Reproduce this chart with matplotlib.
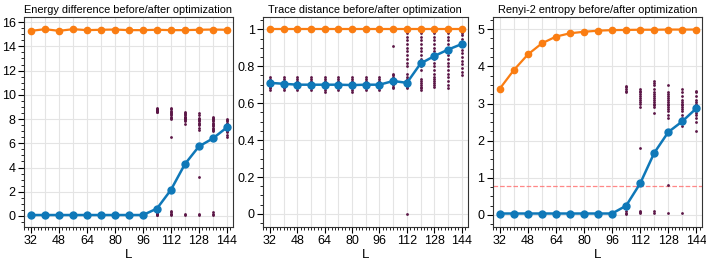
import numpy as np
import matplotlib
matplotlib.use("Agg")
import matplotlib.pyplot as plt
from matplotlib.ticker import MultipleLocator

plt.rcParams["font.family"] = ["Liberation Sans", "DejaVu Sans"]

L = [32, 40, 48, 56, 64, 72, 80, 88, 96, 104, 112, 120, 128, 136, 144]
xticks = [32, 48, 64, 80, 96, 112, 128, 144]

# energy difference
energy_before = [15.28, 15.42, 15.28, 15.42, 15.34, 15.37, 15.39, 15.34, 15.34,
                 15.37, 15.34, 15.34, 15.37, 15.39, 15.37]
energy_after = [0.08, 0.08, 0.08, 0.08, 0.08, 0.08, 0.08, 0.08, 0.08,
                0.61, 2.15, 4.28, 5.74, 6.4, 7.31]
energy_samples = {
    104: [8.55, 8.6, 8.65, 8.7, 8.75, 8.8, 8.85, 8.9, 0.05, 0.1, 0.15, 0.2, 0.25],
    112: [8.0, 8.1, 8.2, 8.3, 8.4, 8.5, 8.6, 8.7, 8.8, 8.9, 6.5, 0.1, 0.15, 0.2, 0.3, 0.4],
    120: [7.6, 7.8, 7.9, 8.0, 8.05, 8.1, 8.15, 8.2, 8.3, 8.4, 8.5, 8.6, 0.1, 0.2],
    128: [7.1, 7.3, 7.5, 7.6, 7.7, 7.8, 7.9, 8.0, 8.1, 8.3, 8.5, 3.2, 0.1, 0.15],
    136: [7.0, 7.1, 7.2, 7.3, 7.4, 7.5, 7.6, 7.7, 7.8, 7.9, 8.0, 8.1, 8.2, 0.1, 0.2, 0.3],
    144: [6.5, 6.7, 6.9, 7.0, 7.1, 7.2, 7.3, 7.4, 7.5, 7.6, 7.7, 7.8, 7.9, 8.0],
}

# trace distance
trace_before = [1.0] * 15
trace_after = [0.71, 0.705, 0.70, 0.70, 0.70, 0.70, 0.698, 0.70, 0.70,
               0.72, 0.71, 0.815, 0.855, 0.89, 0.92]
base_cluster = [0.67, 0.68, 0.69, 0.70, 0.71, 0.72, 0.73, 0.74]
trace_samples = {
    32: base_cluster, 40: base_cluster, 48: base_cluster, 56: base_cluster,
    64: [0.66] + base_cluster, 72: base_cluster, 80: [0.66] + base_cluster,
    88: base_cluster, 96: base_cluster,
    104: [0.68, 0.69, 0.70, 0.71, 0.72, 0.73, 0.74, 0.75, 0.76, 0.91],
    112: [0.0, 0.68, 0.69, 0.7, 0.71, 0.72, 0.73, 0.74, 0.76, 0.80, 0.82, 0.84,
          0.86, 0.88, 0.90, 0.92, 0.94, 0.96, 0.98, 1.0],
    120: [0.67, 0.68, 0.69, 0.70, 0.71, 0.72, 0.73, 0.78, 0.80, 0.82, 0.84, 0.86,
          0.88, 0.9, 0.92, 0.94, 0.96, 0.98, 1.0],
    128: [0.69, 0.70, 0.71, 0.72, 0.73, 0.74, 0.76, 0.78, 0.80, 0.82, 0.84, 0.86,
          0.88, 0.90, 0.92, 0.94, 0.96, 0.98, 1.0],
    136: [0.68, 0.70, 0.72, 0.74, 0.76, 0.78, 0.80, 0.82, 0.84, 0.86, 0.88, 0.90,
          0.92, 0.94, 0.96, 0.98, 0.99],
    144: [0.75, 0.77, 0.79, 0.81, 0.83, 0.85, 0.87, 0.89, 0.91, 0.93, 0.95, 0.97, 0.98],
}

# renyi-2 entropy
renyi_before = [3.4, 3.9, 4.32, 4.62, 4.8, 4.89, 4.93, 4.96, 4.975,
                4.98, 4.985, 4.985, 4.99, 4.99, 4.99]
renyi_after = [0.04, 0.04, 0.04, 0.04, 0.04, 0.04, 0.04, 0.04, 0.04,
               0.25, 0.85, 1.67, 2.23, 2.52, 2.87]
renyi_samples = {
    104: [3.3, 3.35, 3.4, 3.45, 3.47, 0.03, 0.06, 0.1],
    112: [2.9, 3.0, 3.05, 3.1, 3.15, 3.2, 3.25, 3.3, 3.35, 3.4, 1.8, 0.05, 0.08, 0.1],
    120: [2.75, 2.9, 2.95, 3.0, 3.05, 3.1, 3.15, 3.2, 3.25, 3.3, 3.4, 3.5, 3.55, 3.6, 0.05, 0.1],
    128: [2.6, 2.7, 2.8, 2.85, 2.9, 2.95, 3.0, 3.05, 3.1, 3.15, 3.2, 3.25, 3.3, 3.5, 0.8, 0.05],
    136: [2.4, 2.5, 2.6, 2.7, 2.8, 2.85, 2.9, 2.95, 3.0, 3.05, 3.1, 3.2, 3.3, 3.4, 0.05],
    144: [2.25, 2.5, 2.6, 2.7, 2.75, 2.8, 2.85, 2.9, 2.95, 3.0, 3.05, 3.1, 3.2, 3.3, 3.35],
}
renyi_threshold = 0.77

orange = "#fa7d12"
blue = "#0f78b8"
dots = "#5b1646"

fig = plt.figure(figsize=(7.06, 2.62), dpi=100)

panels = [
    ("Energy difference before/after optimization", energy_before, energy_after,
     energy_samples, (-0.9, 16.4), 2, 0.5, [0.034, 0.134, 0.296, 0.80]),
    ("Trace distance before/after optimization", trace_before, trace_after,
     trace_samples, (-0.07, 1.065), 0.2, 0.05, [0.3725, 0.134, 0.290, 0.80]),
    ("Renyi-2 entropy before/after optimization", renyi_before, renyi_after,
     renyi_samples, (-0.32, 5.32), 1, 0.25, [0.698, 0.134, 0.297, 0.80]),
]

for i, (title, before, after, samples, ylim, ymaj, ymin, rect) in enumerate(panels):
    ax = fig.add_axes(rect)
    for x, ys in samples.items():
        ax.scatter([x] * len(ys), ys, s=4, color=dots, linewidths=0, zorder=2)
    ax.plot(L, before, "-o", color=orange, lw=1.6, ms=4.5, zorder=3)
    ax.plot(L, after, "-o", color=blue, lw=1.8, ms=5, zorder=4)
    if i == 2:
        ax.axhline(renyi_threshold, color="#ff6b6b", ls="--", lw=0.9, alpha=0.8, zorder=1)
    ax.set_xlim(28, 147.5)
    ax.set_ylim(*ylim)
    ax.set_xticks(xticks)
    ax.xaxis.set_minor_locator(MultipleLocator(2))
    ax.yaxis.set_major_locator(MultipleLocator(ymaj))
    ax.yaxis.set_minor_locator(MultipleLocator(ymin))
    if i == 1:
        ax.set_yticklabels([f"{t:g}" for t in ax.get_yticks()])
    for x in L:
        ax.axvline(x, color="#e4e4e4", lw=0.8, zorder=0)
    ax.grid(axis="y", color="#e4e4e4", lw=0.8)
    ax.set_axisbelow(True)
    for sp in ax.spines.values():
        sp.set_color("#333333")
    ax.tick_params(which="major", length=4, width=0.8, labelsize=9, pad=2)
    ax.tick_params(which="minor", length=2, width=0.6)
    ax.set_title(title, fontsize=7.9, pad=3)
    ax.set_xlabel("L", fontsize=9.5, labelpad=1)

fig.savefig("out.png", dpi=100)
